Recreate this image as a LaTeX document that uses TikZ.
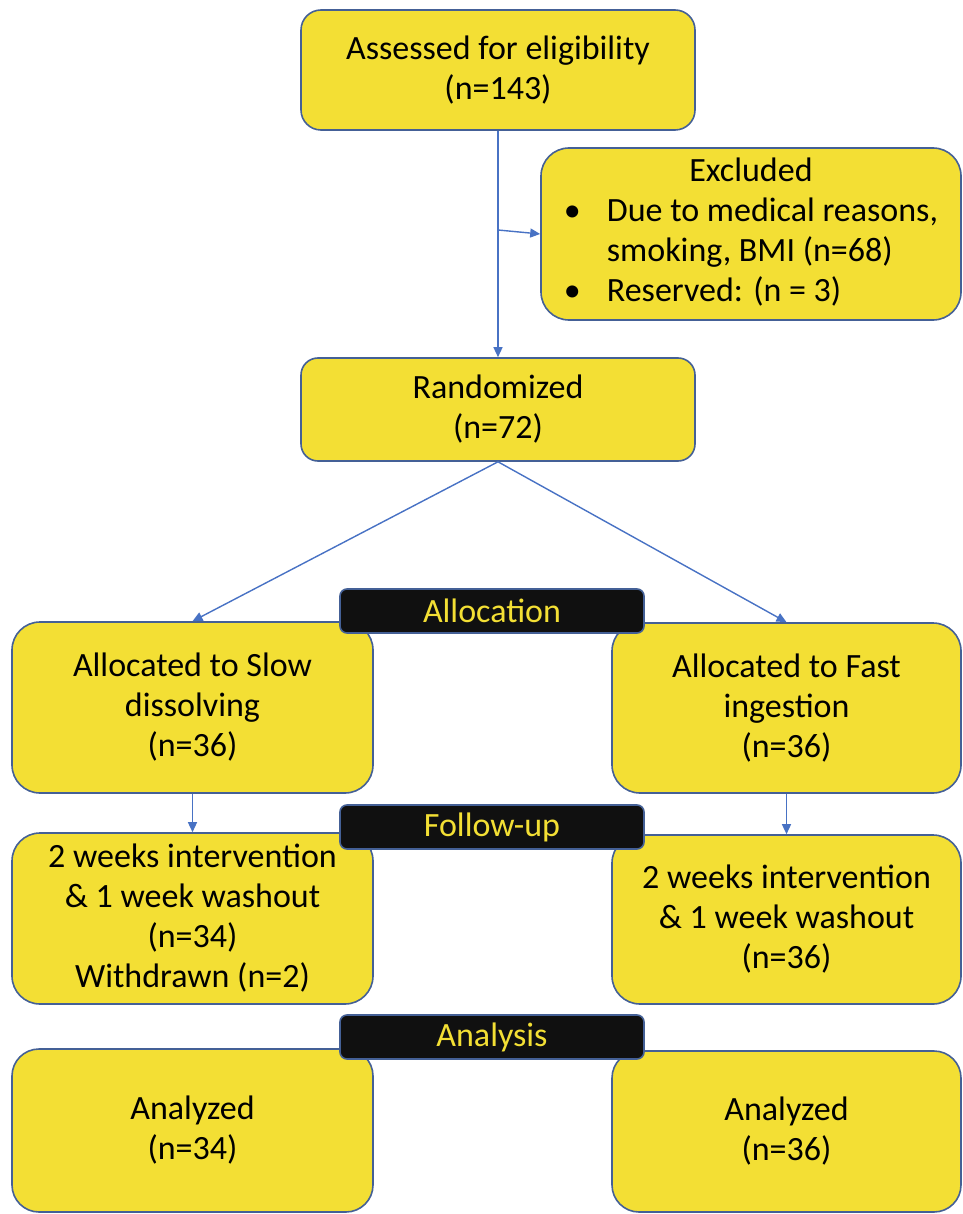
\documentclass[tikz,border=0pt]{standalone}
\usepackage{fontspec}
\setmainfont{Carlito}
\usepackage{tikz}
\usetikzlibrary{arrows.meta}

\definecolor{boxyellow}{RGB}{243,223,52}
\definecolor{boxedge}{RGB}{68,96,150}
\definecolor{linkblue}{RGB}{72,114,196}
\definecolor{stageblack}{RGB}{16,16,16}

\begin{document}
\begin{tikzpicture}[x=1pt, y=-1pt,
	box/.style={draw=boxedge, line width=1.6pt, fill=boxyellow, rounded corners=#1,
		align=center, inner sep=0pt, font=\fontsize{34}{40}\selectfont},
	box/.default=20pt,
	stage/.style={draw=boxedge, line width=1.6pt, fill=stageblack, text=boxyellow,
		rounded corners=7pt, inner sep=0pt, minimum width=304pt, minimum height=44pt,
		font=\fontsize{34}{40}\selectfont},
	link/.style={draw=linkblue, line width=1.4pt, -{Triangle[length=10pt,width=9pt]}}]

	% ---- parameters

	\def\leftx{192.5}
	\def\rightx{786.5}
	\def\stagex{492}

	\useasboundingbox (0,0) rectangle (962,1214);

	% ---- enrolment

	\node[box, minimum width=394pt, minimum height=120pt] (assess) at (498,70)
		{Assessed for eligibility\\(n=143)};

	\node[box=28pt, minimum width=420pt, minimum height=172pt] (excl) at (751,234)
		{\def\arraystretch{1}%
		\begin{tabular}{@{}l@{\hspace{26pt}}l@{}}
			\multicolumn{2}{c}{Excluded}\\
			\textbullet & Due to medical reasons,\\
			            & smoking, BMI (n=68)\\
			\textbullet & Reserved: (n = 3)
		\end{tabular}};

	\node[box=17pt, minimum width=394pt, minimum height=103pt] (rand) at (498,409.5)
		{Randomized\\(n=72)};

	% ---- groups

	\node[box=28pt, minimum width=361pt, minimum height=171pt] (slow) at (\leftx,707.5)
		{Allocated to Slow\\dissolving\\(n=36)};
	\node[box=28pt, minimum width=349pt, minimum height=170pt] (fast) at (\rightx,708)
		{Allocated to Fast\\ingestion\\(n=36)};

	\node[box=28pt, minimum width=361pt, minimum height=171pt] (slowfu) at (\leftx,918.5)
		{2 weeks intervention\\\& 1 week washout\\(n=34)\\Withdrawn (n=2)};
	\node[box=28pt, minimum width=349pt, minimum height=169pt] (fastfu) at (\rightx,919.5)
		{2 weeks intervention\\\& 1 week washout\\(n=36)};

	\node[box=27pt, minimum width=361pt, minimum height=163pt] (slowan) at (\leftx,1130.5)
		{Analyzed\\(n=34)};
	\node[box=27pt, minimum width=349pt, minimum height=161pt] (fastan) at (\rightx,1131.5)
		{Analyzed\\(n=36)};

	% ---- stage labels

	\node[stage] (alloc) at (\stagex,611) {Allocation};
	\node[stage] (follow) at (\stagex,827) {Follow-up};
	\node[stage] (analysis) at (\stagex,1037) {Analysis};

	% ---- connectors

	\coordinate (split) at (498,230);
	\draw[link] (assess.south) -- (rand.north);
	\draw[link] (split) -- (excl.west);
	\draw[link] (rand.south) -- (slow.north);
	\draw[link] (rand.south) -- (fast.north);
	\draw[link] (slow.south) -- (slowfu.north);
	\draw[link] (fast.south) -- (fastfu.north);

\end{tikzpicture}
\end{document}
